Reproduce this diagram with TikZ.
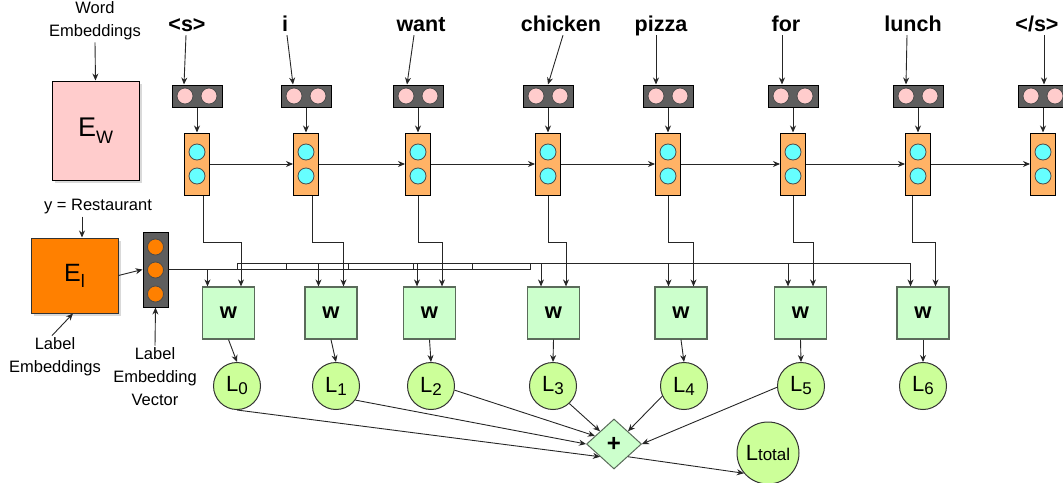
\documentclass[tikz,border=0pt]{standalone}
\usepackage{fontspec}
\setmainfont{Liberation Sans}
\usetikzlibrary{arrows.meta,shapes.geometric,shadows}

\definecolor{dunkel}{HTML}{5E5E5E}
\definecolor{rosa}{HTML}{FFCCCC}
\definecolor{lstmorange}{HTML}{FFB366}
\definecolor{tuerkis}{HTML}{66FFFF}
\definecolor{labelorange}{HTML}{FF8000}
\definecolor{wgruen}{HTML}{CCFFCC}
\definecolor{wrand}{HTML}{5A6B5A}
\definecolor{lgruen}{HTML}{CCFF99}
\definecolor{linie}{HTML}{262626}

\begin{document}
\begin{tikzpicture}[x=1pt,y=-1pt,
	pfeil/.style={-{Stealth[length=7pt,width=6pt]},line width=0.9pt,draw=linie},
	beschr/.style={font=\fontsize{16.5}{23}\selectfont,align=center,inner sep=2pt},
	wortlabel/.style={font=\bfseries\fontsize{21.5}{21.5}\selectfont,inner xsep=2pt,inner ysep=4pt,text depth=0pt},
	embbox/.style={draw=black,fill=dunkel,line width=1pt,minimum width=50pt,minimum height=22pt,inner sep=0pt},
	lstm/.style={draw=black,fill=lstmorange,line width=1pt,minimum width=25pt,minimum height=62pt,inner sep=0pt},
	punkt/.style={circle,draw=black!70,line width=0.8pt,minimum size=16pt,inner sep=0pt},
	wbox/.style={draw=wrand,fill=wgruen,line width=1.2pt,minimum size=52pt,inner sep=0pt,font=\bfseries\fontsize{22}{22}\selectfont},
	lkreis/.style={circle,draw=black!80,fill=lgruen,line width=1pt,minimum size=47pt,inner sep=0pt,font=\fontsize{22}{22}\selectfont},
	schatten/.style={drop shadow={opacity=0.3,shadow xshift=3pt,shadow yshift=-3pt}}]
	\useasboundingbox (0,0) rectangle (1063,482);

	%Embedding-Matrizen links
	\node[beschr] (wetext) at (95,21) {Word\\Embeddings};
	\node[draw=black,fill=rosa,line width=1pt,minimum width=87pt,minimum height=99pt,schatten,font=\fontsize{27}{27}\selectfont] (ew) at (95.5,130.5) {E\raisebox{-7pt}{\fontsize{18}{18}\selectfont W}};
	\draw[pfeil] (wetext.south) -- (ew.north);

	\node[beschr] (ytext) at (98,207) {y = Restaurant};
	\node[draw=black!80,fill=labelorange,line width=1pt,minimum width=87pt,minimum height=75pt,schatten,font=\fontsize{25}{25}\selectfont] (el) at (74.5,275.5) {E\raisebox{-6pt}{\fontsize{18}{18}\selectfont l}};
	\draw[pfeil] ([xshift=-16pt]ytext.south) -- ([xshift=7.5pt]el.north);

	\node[beschr] (letext) at (55,357) {Label\\Embeddings};
	\draw[pfeil] ([xshift=-3pt]letext.north) -- ([xshift=-1.5pt]el.south);

	% Label-Vektor
	\node[embbox,minimum width=25pt,minimum height=75pt] (v) at (155.5,269.5) {};
	\foreach \n/\y in {1/247,2/270,3/294}
		\node[punkt,fill=labelorange] (v-\n) at (155.5,\y) {};
	\node[beschr] (lvtext) at (155,377) {Label\\Embedding\\Vector};
	\draw[pfeil] (lvtext.north) -- (v.south);
	\draw[pfeil] (el.east) -- (v.west);

	%Woerter, Embeddings, LSTM
	\foreach \k/\x/\tx/\wort/\ds/\de in {0/197/187/{<s>}/-1/-13,1/306/285/i/2/-13,2/418/421/want/-7/-11,3/548/561/chicken/2/0,4/668/661/pizza/-5/-12,5/793/786/for/-4/-11,6/918/913/lunch/-6/-12,7/1043/1037/{</s>}/7/1}
	{
		\node[wortlabel,anchor=base] (t\k) at (\tx,31) {\wort};
		\node[embbox] (e\k) at (\x,96) {};
		\node[punkt,fill=rosa] (e\k-1) at ({\x-12},96) {};
		\node[punkt,fill=rosa] (e\k-2) at ({\x+12},96) {};
		\node[lstm] (l\k) at (\x,164) {};
		\node[punkt,fill=tuerkis] (l\k-1) at (\x,152) {};
		\node[punkt,fill=tuerkis] (l\k-2) at (\x,176) {};
		\draw[pfeil] ([xshift=\ds pt]t\k.south) -- ([xshift=\de pt]e\k.north);
		\draw[pfeil] (e\k.south) -- (l\k.north);
	}
	\foreach \a/\b in {0/1,1/2,2/3,3/4,4/5,5/6,6/7}
		\draw[pfeil] (l\a.east) -- (l\b.west);

	%Ausgabe und Verluste
	\foreach \k/\wx/\lx/\dx in {0/228.5/237/6.5,1/331/336/6.5,2/429.5/431/0,3/553.5/553/0,4/681/684/0,5/800.5/801/0,6/923/923/-5.5}
	{
		\node[wbox] (w\k) at (\wx,313) {w};
		\node[lkreis] (L\k) at (\lx,386) {L\raisebox{-3pt}{\fontsize{17}{17}\selectfont\k}};
		\draw[pfeil] ([xshift=\dx pt]l\k.south) -- ++(0,47) -| ([xshift=12.5pt]w\k.north);
		\draw[pfeil] (w\k.south) -- (L\k.north);
	}
	\draw[pfeil] (v.east) -| ([xshift=-21pt]w0.north);
	\foreach \k/\j in {1/237,2/286,3/348,4/413,5/472,6/530}
		\draw[pfeil] (v.east) -| (\j,263) -| ([xshift=-12.5pt]w\k.north);

	% Summe
	\node[diamond,draw=wrand,fill=wgruen,line width=1pt,minimum width=55pt,minimum height=50pt,inner sep=0pt,font=\bfseries\fontsize{24}{24}\selectfont] (plus) at (614,444) {+};
	\node[lkreis,minimum size=62pt] (lt) at (768,453) {L{\fontsize{17}{17}\selectfont total}};
	\draw[pfeil] (L0.south) -- (plus.south west);
	\draw[pfeil] (L1.-36) -- (plus.west);
	\draw[pfeil] (L2.-10) -- (plus.157);
	\draw[pfeil] (L3.-47) -- (plus.north west);
	\draw[pfeil] (L4.-155) -- (plus.north east);
	\draw[pfeil] (L5.-177) -- (plus.east);
	\draw[pfeil] (plus.south east) -- (lt.-140);
\end{tikzpicture}
\end{document}
